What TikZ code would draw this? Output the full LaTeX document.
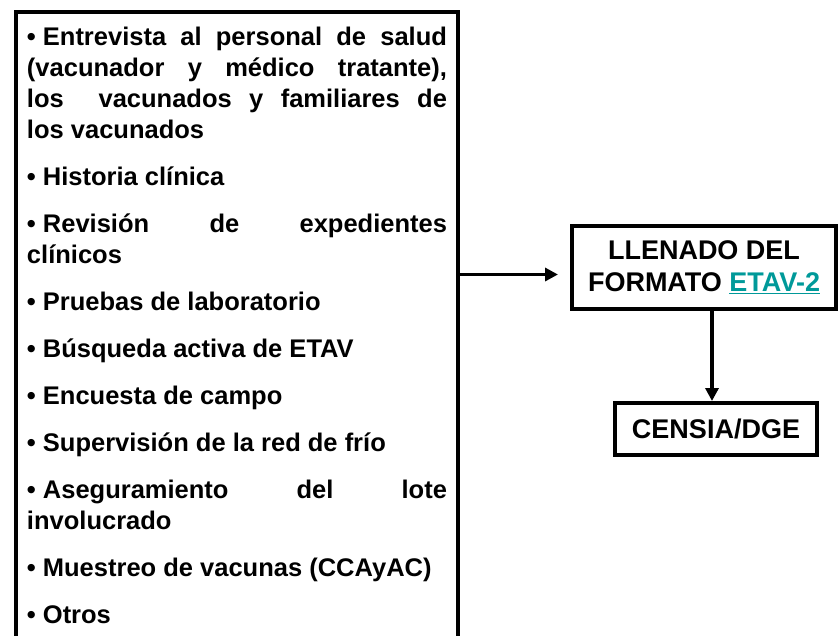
\documentclass[tikz,border=0pt]{standalone}
\usepackage{fontspec}
\setmainfont{Liberation Sans}
\usepackage{xcolor}
\usepackage{tikz}
\usetikzlibrary{arrows.meta}
\definecolor{etavteal}{RGB}{0,153,153}
\newcommand{\vineta}{•\hspace{7pt}}

\begin{document}
\begin{tikzpicture}[x=1pt, y=-1pt,
        caja/.style={draw, line width=4pt, font=\bfseries},
        flecha/.style={line width=3.5pt, -{Triangle[length=13pt,width=13pt]}}]
        \useasboundingbox (0,0) rectangle (838,635);
        \node[caja, anchor=north west, text width=420pt, align=justify, inner xsep=11pt, inner ysep=15pt] (lista) at (14,10)
            {\fontsize{25.5}{31}\selectfont\hyphenpenalty=10000\tolerance=9999\parskip=16pt
            \vineta Entrevista al personal de salud \linebreak (vacunador y médico tratante), \linebreak los\ \ vacunados y familiares de \linebreak los vacunados\par
            \vineta Historia clínica\par
            \vineta Revisión de expedientes \linebreak clínicos\par
            \vineta Pruebas de laboratorio\par
            \vineta Búsqueda activa de ETAV\par
            \vineta Encuesta de campo\par
            \vineta Supervisión de la red de frío\par
            \vineta Aseguramiento del lote \linebreak involucrado\par
            \vineta Muestreo de vacunas (CCAyAC)\par
            \vineta Otros\par\vspace{8pt}};
        \node[caja, minimum width=264pt, minimum height=83pt, align=center, font=\bfseries\fontsize{27}{32}\selectfont] (llenado) at (704,267.5)
            {LLENADO DEL\\FORMATO \textcolor{etavteal}{\underline{ETAV-2}}};
        \node[caja, minimum width=202pt, minimum height=52pt, font=\bfseries\fontsize{27}{30}\selectfont] (censia) at (716,429) {CENSIA/DGE};
        \coordinate (entrada) at ([yshift=-7pt]llenado.west);
        \coordinate (bajada) at ([xshift=8pt]llenado.south);
        \draw[flecha, shorten >=12pt] (lista.east |- entrada) -- (entrada);
        \draw[flecha] (bajada) -- (bajada |- censia.north);
    \end{tikzpicture}
\end{document}
